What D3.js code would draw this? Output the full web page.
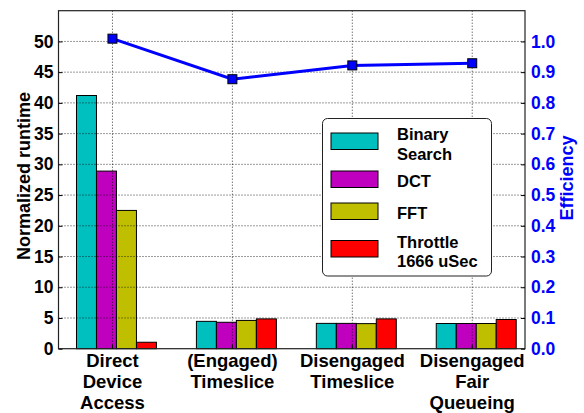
<!DOCTYPE html>
<html>
<head>
<meta charset="utf-8">
<script src="https://cdn.jsdelivr.net/npm/d3@7"></script>
<style>
  html, body { margin: 0; padding: 0; background: #fff; }
  svg { display: block; font-family: "Liberation Sans", Arial, sans-serif; font-weight: bold; }
</style>
</head>
<body>
<svg id="chart" width="584" height="413"></svg>
<script>
// data
const categories = [
  ["Direct", "Device", "Access"],
  ["(Engaged)", "Timeslice"],
  ["Disengaged", "Timeslice"],
  ["Disengaged", "Fair", "Queueing"]
];
const seriesNames = [["Binary", "Search"], ["DCT"], ["FFT"], ["Throttle", "1666 uSec"]];
const seriesColors = ["#00bfbf", "#bf00bf", "#bfbf00", "#ff0000"];
const binarySearch = [41.2, 4.45, 4.12, 4.1];
const dct = [28.9, 4.3, 4.12, 4.1];
const fft = [22.5, 4.6, 4.08, 4.1];
const throttle = [1.05, 4.85, 4.85, 4.75];
const efficiency = [1.009, 0.877, 0.922, 0.929];
const leftTicks = d3.range(0, 51, 5);
const rightTicks = d3.range(0, 1.01, 0.1);

const series = [binarySearch, dct, fft, throttle];
const barW = 1 / 6;
const tickOffset = 0.3;

const svg = d3.select("#chart");
const plotL = 58.5, plotR = 525, plotT = 10.7, plotB = 348.7;

const x = d3.scaleLinear().domain([-0.15, 3.74]).range([plotL, plotR]);
const y = d3.scaleLinear().domain([0, 55]).range([plotB, plotT]);
const y2 = d3.scaleLinear().domain([0, 1.1]).range([plotB, plotT]);

// bars
series.forEach((vals, k) => {
  svg.append("g")
    .selectAll("rect")
    .data(vals)
    .join("rect")
    .attr("x", (d, i) => x(i + k * barW))
    .attr("width", x(barW) - x(0))
    .attr("y", d => y(d))
    .attr("height", d => y(0) - y(d))
    .attr("fill", seriesColors[k])
    .attr("stroke", "#000")
    .attr("stroke-width", 1);
});

// grid (drawn over bars, as in the original)
const grid = svg.append("g")
  .attr("stroke", "#000")
  .attr("stroke-width", 0.8)
  .attr("stroke-dasharray", "1,2");
grid.selectAll(".h")
  .data(leftTicks.slice(1))
  .join("line")
  .attr("x1", plotL).attr("x2", plotR)
  .attr("y1", d => y(d)).attr("y2", d => y(d));
grid.selectAll(".v")
  .data(categories)
  .join("line")
  .attr("x1", (d, i) => x(i + tickOffset)).attr("x2", (d, i) => x(i + tickOffset))
  .attr("y1", plotT).attr("y2", plotB);

// frame
svg.append("rect")
  .attr("x", plotL).attr("y", plotT)
  .attr("width", plotR - plotL).attr("height", plotB - plotT)
  .attr("fill", "none")
  .attr("stroke", "#222")
  .attr("stroke-width", 1.2);

// left axis
const yAxis = d3.axisLeft(y).tickValues(leftTicks).tickSize(-4).tickPadding(5);
const gy = svg.append("g").attr("transform", `translate(${plotL},0)`).call(yAxis);
gy.select(".domain").remove();
gy.selectAll("text").attr("font-size", 17.5).attr("font-family", "Liberation Sans").attr("font-weight", "bold").attr("fill", "#000");

// right axis
const y2Axis = d3.axisRight(y2).tickValues(rightTicks).tickSize(-4).tickPadding(6).tickFormat(d3.format(".1f"));
const gy2 = svg.append("g").attr("transform", `translate(${plotR},0)`).call(y2Axis);
gy2.select(".domain").remove();
gy2.selectAll("line").attr("stroke", "#000");
gy2.selectAll("text").attr("font-size", 17.5).attr("font-family", "Liberation Sans").attr("font-weight", "bold").attr("fill", "#0000ff");

// x axis labels
const gx = svg.append("g");
categories.forEach((lines, i) => {
  const t = gx.append("text")
    .attr("x", x(i + tickOffset))
    .attr("y", 367)
    .attr("text-anchor", "middle")
    .attr("font-size", 18.5)
    .attr("fill", "#000");
  lines.forEach((s, j) => {
    t.append("tspan").attr("x", x(i + tickOffset)).attr("dy", j === 0 ? 0 : 21).text(s);
  });
  gx.append("line")
    .attr("x1", x(i + tickOffset)).attr("x2", x(i + tickOffset))
    .attr("y1", plotB).attr("y2", plotB - 4)
    .attr("stroke", "#000");
});

// axis titles
svg.append("text")
  .attr("transform", `translate(30,176) rotate(-90)`)
  .attr("text-anchor", "middle")
  .attr("font-size", 18)
  .attr("fill", "#000")
  .text("Normalized runtime");
svg.append("text")
  .attr("transform", `translate(573,178) rotate(-90)`)
  .attr("text-anchor", "middle")
  .attr("font-size", 18)
  .attr("fill", "#0000ff")
  .text("Efficiency");

// efficiency line
const line = d3.line()
  .x((d, i) => x(i + tickOffset))
  .y(d => y2(d));
svg.append("path")
  .datum(efficiency)
  .attr("d", line)
  .attr("fill", "none")
  .attr("stroke", "#0000ff")
  .attr("stroke-width", 3);
svg.append("g")
  .selectAll("rect")
  .data(efficiency)
  .join("rect")
  .attr("x", (d, i) => x(i + tickOffset) - 4.5)
  .attr("y", d => y2(d) - 4.5)
  .attr("width", 9).attr("height", 9)
  .attr("fill", "#0000ff")
  .attr("stroke", "#000")
  .attr("stroke-width", 1);

// legend
const lg = svg.append("g");
lg.append("rect")
  .attr("x", 322.5).attr("y", 118.5)
  .attr("width", 169).attr("height", 157.5)
  .attr("rx", 5)
  .attr("fill", "#fff")
  .attr("stroke", "#222")
  .attr("stroke-width", 1);
const patchY = [133, 171, 203, 240.5];
const textY = [140, 187, 219, 247.5];
seriesNames.forEach((names, k) => {
  lg.append("rect")
    .attr("x", 331).attr("y", patchY[k])
    .attr("width", 47).attr("height", 16.5)
    .attr("fill", seriesColors[k])
    .attr("stroke", "#000");
  const t = lg.append("text")
    .attr("x", 397).attr("y", textY[k])
    .attr("font-size", 16.5)
    .attr("fill", "#000");
  names.forEach((s, j) => {
    t.append("tspan").attr("x", 397).attr("dy", j === 0 ? 0 : 19.5).text(s);
  });
});
</script>
</body>
</html>
